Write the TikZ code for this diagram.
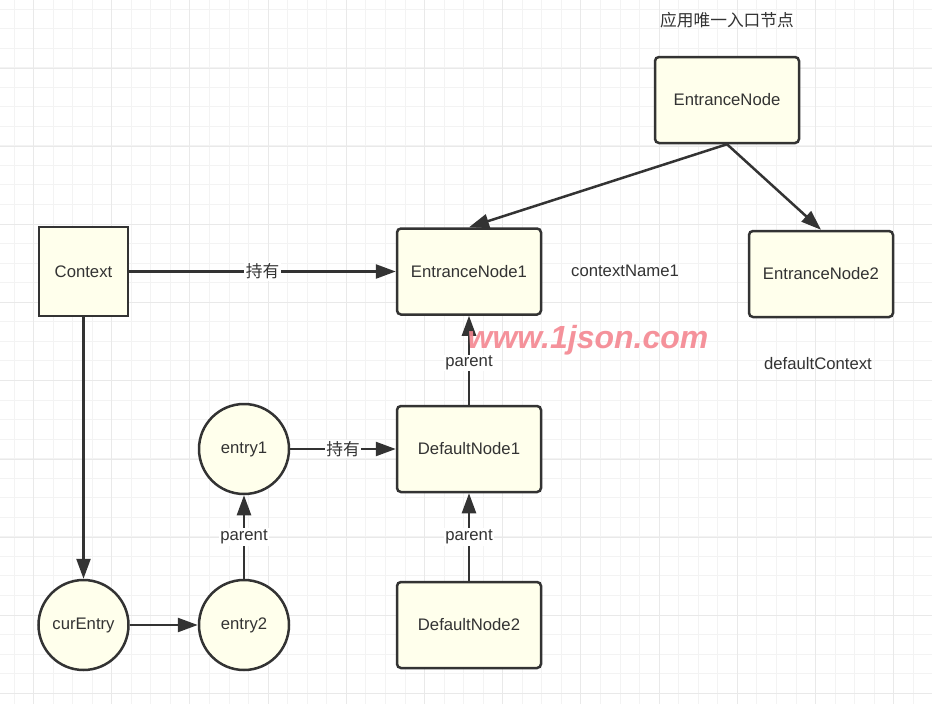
\documentclass[tikz,border=0pt]{standalone}
\usepackage{fontspec}
\setmainfont{Liberation Sans}
\newfontfamily\cjk{Noto Sans CJK SC}
\usetikzlibrary{arrows.meta}
\definecolor{ink}{RGB}{51,51,51}
\definecolor{txt}{RGB}{51,51,51}
\definecolor{nodefill}{RGB}{255,255,236}
\definecolor{gridminor}{RGB}{243,243,243}
\definecolor{gridmajor}{RGB}{233,233,233}
\definecolor{wm}{RGB}{244,135,145}
\tikzset{
  base/.style={draw=ink, line width=2.5pt, fill=nodefill, text=txt, font=\fontsize{16.7}{20}\selectfont},
  rbox/.style={base, rectangle, rounded corners=4pt, minimum width=144pt, minimum height=86pt},
  sbox/.style={base, rectangle, minimum width=89pt, minimum height=89pt},
  circ/.style={base, circle, minimum size=90pt, inner sep=0pt},
  plain/.style={text=txt, font=\fontsize{16.7}{20}\selectfont},
  conn/.style={draw=ink, line width=2.5pt, -{Triangle[length=20pt,width=14pt]}},
  lbl/.style={fill=white, text=txt, inner sep=1.5pt, font=\fontsize{16.7}{20}\selectfont}
}
\begin{document}
\begin{tikzpicture}[x=1pt,y=-1pt]
\useasboundingbox (0,0) rectangle (932,704);
\fill[white] (0,0) rectangle (932,704);
% grid
\foreach \i in {0,...,47} {
  \pgfmathsetmacro\gx{14+19.55*\i}
  \draw[gridminor, line width=1pt] (\gx,0) -- (\gx,704);
}
\foreach \i in {0,...,36} {
  \pgfmathsetmacro\gy{9+19.55*\i}
  \draw[gridminor, line width=1pt] (0,\gy) -- (932,\gy);
}
\foreach \i in {0,...,11} {
  \pgfmathsetmacro\gx{33.4+78.2*\i}
  \draw[gridmajor, line width=1pt] (\gx,0) -- (\gx,704);
}
\foreach \i in {0,...,9} {
  \pgfmathsetmacro\gy{-10.2+78.2*\i}
  \draw[gridmajor, line width=1pt] (0,\gy) -- (932,\gy);
}
% nodes
\node[plain, font=\cjk\fontsize{16.7}{20}\selectfont] (title) at (727,20) {应用唯一入口节点};
\node[rbox] (en) at (727,100) {EntranceNode};
\node[sbox] (ctx) at (83.5,271.5) {Context};
\node[rbox] (en1) at (469,271.5) {EntranceNode1};
\node[plain] (cn1) at (625,271) {contextName1};
\node[rbox] (en2) at (821,274) {EntranceNode2};
\node[plain] (dc) at (818,364) {defaultContext};
\node[rbox] (dn1) at (469,449) {DefaultNode1};
\node[rbox] (dn2) at (469,625) {DefaultNode2};
\node[circ] (e1) at (244,449) {entry1};
\node[circ] (e2) at (244,625) {entry2};
\node[circ] (cur) at (83.5,625) {curEntry};
% connectors
\draw[conn] (en.south) -- (en1.north);
\draw[conn] (en.south) -- (en2.north);
\draw[conn] (ctx.east) -- node[lbl, font=\cjk\fontsize{16.7}{20}\selectfont] {持有} (en1.west);
\draw[conn] (ctx.south) -- (cur.north);
\draw[conn] (cur.east) -- (e2.west);
\draw[conn] (e2.north) -- node[lbl] {parent} (e1.south);
\draw[conn] (e1.east) -- node[lbl, font=\cjk\fontsize{16.7}{20}\selectfont] {持有} (dn1.west);
\draw[conn] (dn1.north) -- node[lbl, yshift=-3pt, inner ysep=1pt] {parent} (en1.south);
\draw[conn] (dn2.north) -- node[lbl] {parent} (dn1.south);
% watermark
\node[text=wm, font=\bfseries\itshape\fontsize{32}{36}\selectfont, opacity=0.9, inner sep=0pt] (wmark) at (588,340) {www.1json.com};
\end{tikzpicture}
\end{document}
